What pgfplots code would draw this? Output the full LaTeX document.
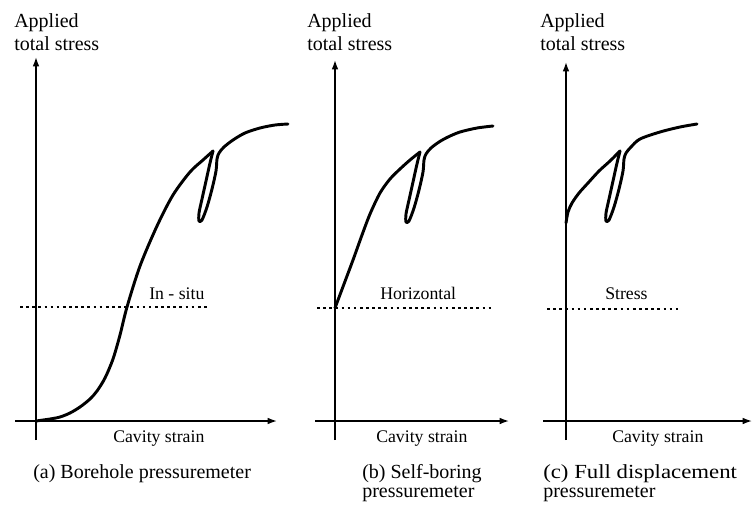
\documentclass[border=0pt]{standalone}
\usepackage{pgfplots}
\pgfplotsset{compat=1.18}
\usepackage{fontspec}
\setmainfont{Liberation Serif}
\usetikzlibrary{arrows.meta}

\newcommand{\bigtxt}{\fontsize{15}{17.25}\selectfont}
\newcommand{\smalltxt}{\fontsize{13.3}{15}\selectfont}

\pgfplotsset{
  panel/.style={
    anchor=origin, x=0.75pt, y=0.75pt,
    axis lines=middle, ticks=none, clip=false,
    axis line style={line width=1.1pt, -{Latex[length=7pt,width=5pt]}},
  },
  loading/.style={black, line width=2.2pt, smooth, line join=round, line cap=round},
  insitu/.style={black, line width=1.7pt, line cap=butt, dash pattern=on 2pt off 2.6pt},
}

\begin{document}
\begin{tikzpicture}
\begin{scope}[x=0.75pt, y=-0.75pt]
  \path[use as bounding box] (0,0) rectangle (755,504);
\end{scope}

% (a) Borehole pressuremeter
\begin{axis}[panel, at={(27pt,-315.75pt)}, xmin=-21, xmax=241, ymin=-19, ymax=364]
  \addplot[loading] coordinates {(0,0) (14,2) (24,4) (34,8) (44,14) (54,22) (61,30) (69,43) (77,62) (84,86) (91,114) (104,155) (121,195) (137,226) (154,249) (167,261) (177,270)};
  \addplot[loading] coordinates {(177,270) (174,258) (170,240) (166,222) (163,208) (163,200) (166,201) (171,214) (176,232) (180,250) (181,262) (183,268) (188,274) (197,281) (209,288) (224,293) (239,296) (252,297)};
  \addplot[insitu] coordinates {(-16,114) (171,114)};
\end{axis}

% (b) Self-boring pressuremeter
\begin{axis}[panel, at={(251.25pt,-315.75pt)}, xmin=-20, xmax=174, ymin=-19, ymax=361]
  \addplot[loading] coordinates {(0,113) (9,137) (18,161) (27,186) (35,207) (45,228) (55,242) (65,252) (75,261) (85,269)};
  \addplot[loading] coordinates {(85,269) (82,257) (78,239) (74,221) (71,207) (71,199) (74,200) (79,213) (84,231) (88,249) (89,261) (91,267) (96,273) (104,279) (113,284) (125,289) (142,293) (158,295)};
  \addplot[insitu] coordinates {(-18,113) (157,113)};
\end{axis}

% (c) Full displacement pressuremeter
\begin{axis}[panel, at={(424.5pt,-315.75pt)}, xmin=-23, xmax=186, ymin=-19, ymax=359]
  \addplot[loading] coordinates {(0,198) (2,209) (6,218) (13,228) (22,238) (33,250) (44,260) (54,270)};
  \addplot[loading] coordinates {(54,270) (51,258) (47,240) (43,222) (40,208) (40,200) (43,201) (48,214) (53,232) (57,250) (58,262) (60,268) (65,274) (74,282) (94,289) (114,294) (131,297)};
  \addplot[insitu] coordinates {(-19,112) (114,112)};
\end{axis}

\begin{scope}[x=0.75pt, y=-0.75pt]
  % axis titles
  \foreach \xx in {14,307,540}{
    \node[anchor=base west, inner sep=0pt] at (\xx,27) {\bigtxt Applied};
    \node[anchor=base west, inner sep=0pt] at (\xx,50) {\bigtxt total stress};
  }
  \foreach \xx in {113,376,612}{
    \node[anchor=base west, inner sep=0pt] at (\xx,442) {\smalltxt Cavity strain};
  }
  % reference stress labels
  \node[anchor=base west, inner sep=0pt] at (149,299) {\smalltxt In - situ};
  \node[anchor=base west, inner sep=0pt] at (380,299) {\smalltxt Horizontal};
  \node[anchor=base west, inner sep=0pt] at (605,299) {\smalltxt Stress};
  % panel captions
  \node[anchor=base west, inner sep=0pt] at (33,478) {\bigtxt (a) Borehole pressuremeter};
  \node[anchor=base west, inner sep=0pt] at (362,478) {\bigtxt (b) Self-boring};
  \node[anchor=base west, inner sep=0pt] at (362,497) {\bigtxt pressuremeter};
  \node[anchor=base west, inner sep=0pt] at (543,478) {\bigtxt\scalebox{1.14}[1]{(c) Full displacement}};
  \node[anchor=base west, inner sep=0pt] at (543,497) {\bigtxt pressuremeter};
\end{scope}
\end{tikzpicture}
\end{document}
